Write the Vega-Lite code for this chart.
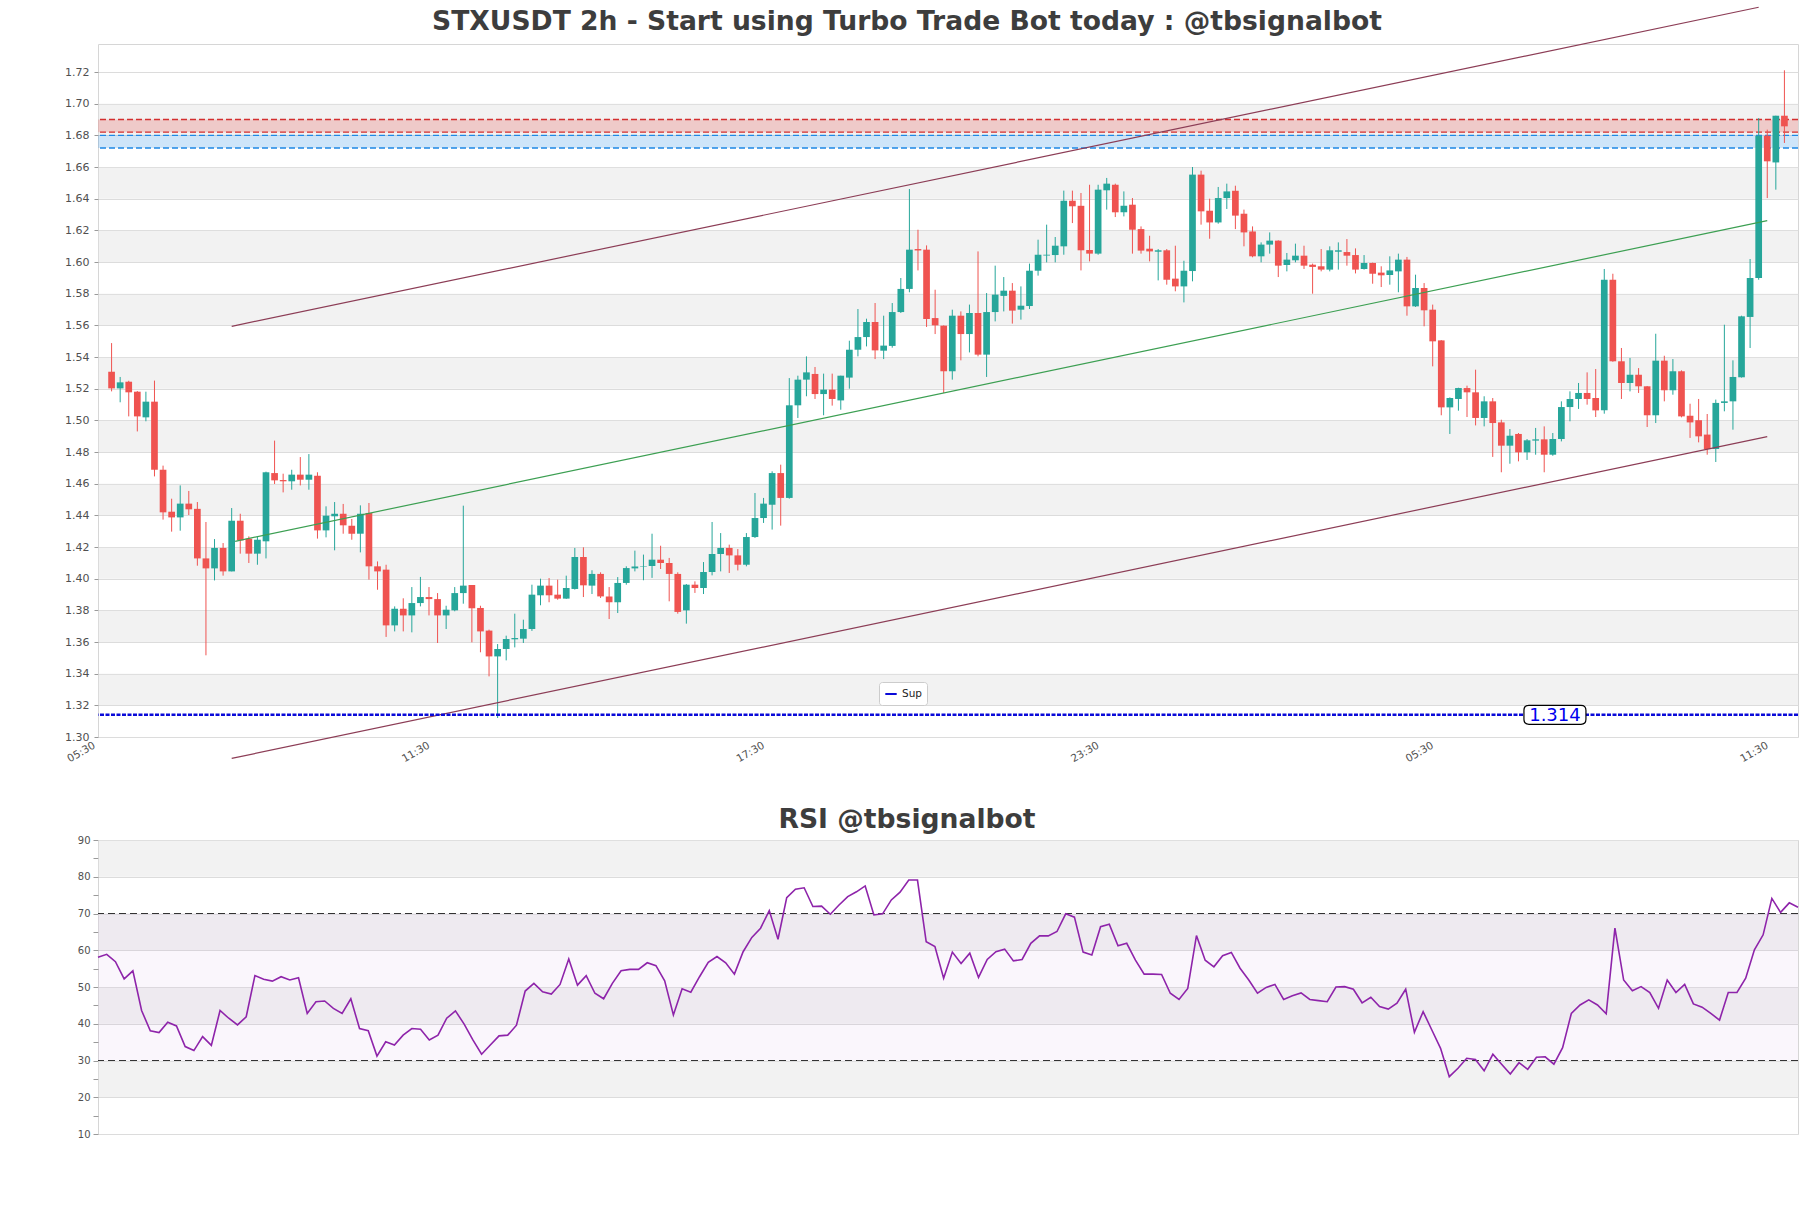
{
  "$schema": "https://vega.github.io/schema/vega-lite/v6.json",
  "autosize": {"type": "pad"},
  "padding": {"left": 64, "top": 4, "right": 14, "bottom": 74},
  "background": "#ffffff",
  "bounds": "flush",
  "spacing": 103,
  "config": {
    "font": "DejaVu Sans",
    "view": {"stroke": "#d6d6d6", "strokeWidth": 1},
    "axis": {"labelFont": "DejaVu Sans", "labelColor": "#505050", "tickColor": "#9a9a9a", "gridColor": "#dcdcdc", "gridWidth": 1, "domain": false, "labelOverlap": false},
    "title": {"font": "DejaVu Sans", "fontSize": 26.6, "fontWeight": "bold", "color": "#3d3d3d", "anchor": "middle"}
  },
  "datasets": {
    "k": [
      {"i":0,"o":1.5307,"h":1.5488,"l":1.5183,"c":1.5202,"r":58.1},
      {"i":1,"o":1.5202,"h":1.5274,"l":1.5114,"c":1.5240,"r":58.9},
      {"i":2,"o":1.5244,"h":1.5250,"l":1.5025,"c":1.5177,"r":56.9},
      {"i":3,"o":1.5181,"h":1.5185,"l":1.4930,"c":1.5025,"r":52.2},
      {"i":4,"o":1.5019,"h":1.5181,"l":1.4994,"c":1.5118,"r":54.4},
      {"i":5,"o":1.5118,"h":1.5251,"l":1.4646,"c":1.4688,"r":43.6},
      {"i":6,"o":1.4688,"h":1.4714,"l":1.4373,"c":1.4419,"r":38.1},
      {"i":7,"o":1.4423,"h":1.4505,"l":1.4297,"c":1.4387,"r":37.6},
      {"i":8,"o":1.4387,"h":1.4589,"l":1.4303,"c":1.4474,"r":40.4},
      {"i":9,"o":1.4474,"h":1.4554,"l":1.4402,"c":1.4438,"r":39.4},
      {"i":10,"o":1.4441,"h":1.4484,"l":1.4082,"c":1.4128,"r":33.8},
      {"i":11,"o":1.4128,"h":1.4358,"l":1.3516,"c":1.4065,"r":32.7},
      {"i":12,"o":1.4065,"h":1.4250,"l":1.3989,"c":1.4194,"r":36.5},
      {"i":13,"o":1.4194,"h":1.4225,"l":1.4019,"c":1.4046,"r":34.1},
      {"i":14,"o":1.4046,"h":1.4446,"l":1.4046,"c":1.4366,"r":43.6},
      {"i":15,"o":1.4366,"h":1.4410,"l":1.4158,"c":1.4242,"r":41.5},
      {"i":16,"o":1.4253,"h":1.4267,"l":1.4099,"c":1.4158,"r":39.7},
      {"i":17,"o":1.4158,"h":1.4267,"l":1.4088,"c":1.4246,"r":41.9},
      {"i":18,"o":1.4236,"h":1.4676,"l":1.4128,"c":1.4672,"r":53.1},
      {"i":19,"o":1.4667,"h":1.4872,"l":1.4598,"c":1.4621,"r":52.1},
      {"i":20,"o":1.4623,"h":1.4663,"l":1.4545,"c":1.4615,"r":51.6},
      {"i":21,"o":1.4615,"h":1.4688,"l":1.4562,"c":1.4657,"r":52.8},
      {"i":22,"o":1.4657,"h":1.4768,"l":1.4589,"c":1.4625,"r":51.9},
      {"i":23,"o":1.4625,"h":1.4787,"l":1.4562,"c":1.4657,"r":52.5},
      {"i":24,"o":1.4650,"h":1.4672,"l":1.4253,"c":1.4305,"r":42.8},
      {"i":25,"o":1.4305,"h":1.4457,"l":1.4261,"c":1.4398,"r":46.0},
      {"i":26,"o":1.4394,"h":1.4484,"l":1.4179,"c":1.4410,"r":46.2},
      {"i":27,"o":1.4410,"h":1.4472,"l":1.4284,"c":1.4337,"r":44.2},
      {"i":28,"o":1.4335,"h":1.4377,"l":1.4246,"c":1.4284,"r":42.8},
      {"i":29,"o":1.4284,"h":1.4463,"l":1.4166,"c":1.4410,"r":46.8},
      {"i":30,"o":1.4415,"h":1.4478,"l":1.3994,"c":1.4078,"r":38.7},
      {"i":31,"o":1.4078,"h":1.4109,"l":1.3930,"c":1.4046,"r":38.1},
      {"i":32,"o":1.4057,"h":1.4088,"l":1.3632,"c":1.3705,"r":31.2},
      {"i":33,"o":1.3705,"h":1.3825,"l":1.3667,"c":1.3810,"r":35.1},
      {"i":34,"o":1.3810,"h":1.3876,"l":1.3667,"c":1.3768,"r":34.2},
      {"i":35,"o":1.3768,"h":1.3947,"l":1.3661,"c":1.3846,"r":36.9},
      {"i":36,"o":1.3846,"h":1.4011,"l":1.3825,"c":1.3884,"r":38.7},
      {"i":37,"o":1.3884,"h":1.3947,"l":1.3768,"c":1.3871,"r":38.5},
      {"i":38,"o":1.3871,"h":1.3909,"l":1.3594,"c":1.3768,"r":35.6},
      {"i":39,"o":1.3768,"h":1.3829,"l":1.3682,"c":1.3804,"r":36.9},
      {"i":40,"o":1.3800,"h":1.3947,"l":1.3794,"c":1.3909,"r":41.5},
      {"i":41,"o":1.3909,"h":1.4461,"l":1.3842,"c":1.3956,"r":43.5},
      {"i":42,"o":1.3960,"h":1.3960,"l":1.3598,"c":1.3813,"r":39.9},
      {"i":43,"o":1.3815,"h":1.3829,"l":1.3535,"c":1.3667,"r":35.6},
      {"i":44,"o":1.3672,"h":1.3678,"l":1.3383,"c":1.3509,"r":31.7},
      {"i":45,"o":1.3509,"h":1.3587,"l":1.3120,"c":1.3556,"r":34.2},
      {"i":46,"o":1.3556,"h":1.3640,"l":1.3484,"c":1.3619,"r":36.7},
      {"i":47,"o":1.3617,"h":1.3779,"l":1.3566,"c":1.3625,"r":36.9},
      {"i":48,"o":1.3621,"h":1.3741,"l":1.3594,"c":1.3682,"r":39.6},
      {"i":49,"o":1.3682,"h":1.3962,"l":1.3670,"c":1.3899,"r":48.9},
      {"i":50,"o":1.3895,"h":1.4000,"l":1.3832,"c":1.3956,"r":51.0},
      {"i":51,"o":1.3956,"h":1.4004,"l":1.3851,"c":1.3895,"r":48.7},
      {"i":52,"o":1.3899,"h":1.3994,"l":1.3867,"c":1.3874,"r":48.1},
      {"i":53,"o":1.3874,"h":1.4019,"l":1.3872,"c":1.3941,"r":50.7},
      {"i":54,"o":1.3935,"h":1.4194,"l":1.3931,"c":1.4137,"r":57.6},
      {"i":55,"o":1.4137,"h":1.4198,"l":1.3884,"c":1.3958,"r":50.5},
      {"i":56,"o":1.3956,"h":1.4053,"l":1.3903,"c":1.4030,"r":53.1},
      {"i":57,"o":1.4030,"h":1.4040,"l":1.3878,"c":1.3888,"r":48.3},
      {"i":58,"o":1.3888,"h":1.3947,"l":1.3745,"c":1.3851,"r":46.8},
      {"i":59,"o":1.3851,"h":1.4010,"l":1.3783,"c":1.3973,"r":51.0},
      {"i":60,"o":1.3973,"h":1.4078,"l":1.3962,"c":1.4067,"r":54.4},
      {"i":61,"o":1.4065,"h":1.4177,"l":1.4046,"c":1.4077,"r":54.8},
      {"i":62,"o":1.4077,"h":1.4152,"l":1.3990,"c":1.4080,"r":54.8},
      {"i":63,"o":1.4080,"h":1.4284,"l":1.4005,"c":1.4120,"r":56.6},
      {"i":64,"o":1.4120,"h":1.4208,"l":1.4061,"c":1.4099,"r":55.8},
      {"i":65,"o":1.4099,"h":1.4131,"l":1.3857,"c":1.4030,"r":51.7},
      {"i":66,"o":1.4030,"h":1.4040,"l":1.3779,"c":1.3790,"r":42.4},
      {"i":67,"o":1.3800,"h":1.3966,"l":1.3716,"c":1.3962,"r":49.5},
      {"i":68,"o":1.3962,"h":1.3983,"l":1.3910,"c":1.3941,"r":48.6},
      {"i":69,"o":1.3941,"h":1.4105,"l":1.3903,"c":1.4042,"r":52.8},
      {"i":70,"o":1.4042,"h":1.4358,"l":1.4021,"c":1.4156,"r":56.7},
      {"i":71,"o":1.4156,"h":1.4288,"l":1.4046,"c":1.4194,"r":58.3},
      {"i":72,"o":1.4194,"h":1.4215,"l":1.4036,"c":1.4147,"r":56.6},
      {"i":73,"o":1.4147,"h":1.4187,"l":1.4052,"c":1.4088,"r":53.5},
      {"i":74,"o":1.4088,"h":1.4288,"l":1.4078,"c":1.4263,"r":59.6},
      {"i":75,"o":1.4263,"h":1.4541,"l":1.4257,"c":1.4383,"r":63.5},
      {"i":76,"o":1.4383,"h":1.4510,"l":1.4352,"c":1.4474,"r":66.0},
      {"i":77,"o":1.4467,"h":1.4678,"l":1.4310,"c":1.4667,"r":70.8},
      {"i":78,"o":1.4667,"h":1.4720,"l":1.4335,"c":1.4510,"r":63.0},
      {"i":79,"o":1.4510,"h":1.5267,"l":1.4505,"c":1.5095,"r":74.3},
      {"i":80,"o":1.5095,"h":1.5282,"l":1.5015,"c":1.5257,"r":76.6},
      {"i":81,"o":1.5257,"h":1.5404,"l":1.5152,"c":1.5303,"r":77.0},
      {"i":82,"o":1.5293,"h":1.5337,"l":1.5135,"c":1.5166,"r":71.9},
      {"i":83,"o":1.5166,"h":1.5295,"l":1.5032,"c":1.5194,"r":72.0},
      {"i":84,"o":1.5194,"h":1.5295,"l":1.5093,"c":1.5135,"r":69.8},
      {"i":85,"o":1.5126,"h":1.5282,"l":1.5067,"c":1.5282,"r":72.3},
      {"i":86,"o":1.5270,"h":1.5503,"l":1.5200,"c":1.5446,"r":74.6},
      {"i":87,"o":1.5446,"h":1.5703,"l":1.5404,"c":1.5526,"r":75.9},
      {"i":88,"o":1.5526,"h":1.5642,"l":1.5467,"c":1.5621,"r":77.5},
      {"i":89,"o":1.5621,"h":1.5741,"l":1.5387,"c":1.5442,"r":69.6},
      {"i":90,"o":1.5440,"h":1.5661,"l":1.5387,"c":1.5472,"r":69.9},
      {"i":91,"o":1.5470,"h":1.5741,"l":1.5459,"c":1.5684,"r":73.7},
      {"i":92,"o":1.5684,"h":1.5899,"l":1.5678,"c":1.5830,"r":75.8},
      {"i":93,"o":1.5830,"h":1.6461,"l":1.5809,"c":1.6078,"r":79.1},
      {"i":94,"o":1.6082,"h":1.6204,"l":1.5947,"c":1.6073,"r":79.1},
      {"i":95,"o":1.6078,"h":1.6105,"l":1.5590,"c":1.5640,"r":62.3},
      {"i":96,"o":1.5646,"h":1.5825,"l":1.5545,"c":1.5600,"r":61.0},
      {"i":97,"o":1.5598,"h":1.5600,"l":1.5173,"c":1.5310,"r":52.4},
      {"i":98,"o":1.5310,"h":1.5699,"l":1.5257,"c":1.5661,"r":59.5},
      {"i":99,"o":1.5661,"h":1.5688,"l":1.5379,"c":1.5545,"r":56.4},
      {"i":100,"o":1.5545,"h":1.5731,"l":1.5429,"c":1.5678,"r":59.2},
      {"i":101,"o":1.5678,"h":1.6067,"l":1.5404,"c":1.5415,"r":52.6},
      {"i":102,"o":1.5415,"h":1.5804,"l":1.5274,"c":1.5684,"r":57.5},
      {"i":103,"o":1.5684,"h":1.5977,"l":1.5625,"c":1.5794,"r":59.6},
      {"i":104,"o":1.5786,"h":1.5905,"l":1.5688,"c":1.5819,"r":60.3},
      {"i":105,"o":1.5819,"h":1.5867,"l":1.5611,"c":1.5693,"r":57.1},
      {"i":106,"o":1.5699,"h":1.5846,"l":1.5636,"c":1.5724,"r":57.5},
      {"i":107,"o":1.5722,"h":1.5990,"l":1.5703,"c":1.5945,"r":61.9},
      {"i":108,"o":1.5945,"h":1.6141,"l":1.5914,"c":1.6046,"r":63.9},
      {"i":109,"o":1.6041,"h":1.6236,"l":1.5998,"c":1.6046,"r":63.9},
      {"i":110,"o":1.6044,"h":1.6158,"l":1.5998,"c":1.6103,"r":65.1},
      {"i":111,"o":1.6099,"h":1.6451,"l":1.6046,"c":1.6387,"r":69.9},
      {"i":112,"o":1.6387,"h":1.6451,"l":1.6246,"c":1.6352,"r":69.0},
      {"i":113,"o":1.6355,"h":1.6436,"l":1.5947,"c":1.6074,"r":59.5},
      {"i":114,"o":1.6076,"h":1.6488,"l":1.6004,"c":1.6053,"r":58.7},
      {"i":115,"o":1.6053,"h":1.6488,"l":1.6046,"c":1.6457,"r":66.4},
      {"i":116,"o":1.6453,"h":1.6531,"l":1.6331,"c":1.6495,"r":67.1},
      {"i":117,"o":1.6488,"h":1.6495,"l":1.6284,"c":1.6314,"r":61.2},
      {"i":118,"o":1.6314,"h":1.6446,"l":1.6288,"c":1.6356,"r":61.9},
      {"i":119,"o":1.6362,"h":1.6404,"l":1.6053,"c":1.6204,"r":57.3},
      {"i":120,"o":1.6208,"h":1.6225,"l":1.6053,"c":1.6072,"r":53.5},
      {"i":121,"o":1.6084,"h":1.6166,"l":1.6004,"c":1.6067,"r":53.5},
      {"i":122,"o":1.6065,"h":1.6082,"l":1.5884,"c":1.6074,"r":53.4},
      {"i":123,"o":1.6074,"h":1.6082,"l":1.5857,"c":1.5888,"r":48.3},
      {"i":124,"o":1.5895,"h":1.6103,"l":1.5815,"c":1.5846,"r":46.6},
      {"i":125,"o":1.5846,"h":1.6008,"l":1.5745,"c":1.5945,"r":49.6},
      {"i":126,"o":1.5943,"h":1.6600,"l":1.5878,"c":1.6552,"r":64.0},
      {"i":127,"o":1.6552,"h":1.6577,"l":1.6236,"c":1.6320,"r":57.3},
      {"i":128,"o":1.6324,"h":1.6400,"l":1.6147,"c":1.6250,"r":55.5},
      {"i":129,"o":1.6250,"h":1.6474,"l":1.6242,"c":1.6404,"r":58.5},
      {"i":130,"o":1.6404,"h":1.6495,"l":1.6335,"c":1.6446,"r":59.4},
      {"i":131,"o":1.6450,"h":1.6482,"l":1.6208,"c":1.6293,"r":55.1},
      {"i":132,"o":1.6305,"h":1.6331,"l":1.6099,"c":1.6187,"r":51.9},
      {"i":133,"o":1.6193,"h":1.6225,"l":1.6030,"c":1.6036,"r":48.3},
      {"i":134,"o":1.6036,"h":1.6124,"l":1.5998,"c":1.6110,"r":49.9},
      {"i":135,"o":1.6110,"h":1.6187,"l":1.6053,"c":1.6135,"r":50.7},
      {"i":136,"o":1.6135,"h":1.6137,"l":1.5905,"c":1.5977,"r":46.6},
      {"i":137,"o":1.5981,"h":1.6057,"l":1.5941,"c":1.6015,"r":47.6},
      {"i":138,"o":1.6011,"h":1.6116,"l":1.5998,"c":1.6040,"r":48.4},
      {"i":139,"o":1.6040,"h":1.6103,"l":1.5956,"c":1.5977,"r":46.6},
      {"i":140,"o":1.5983,"h":1.5990,"l":1.5800,"c":1.5969,"r":46.3},
      {"i":141,"o":1.5973,"h":1.6082,"l":1.5941,"c":1.5952,"r":46.0},
      {"i":142,"o":1.5952,"h":1.6099,"l":1.5941,"c":1.6074,"r":50.0},
      {"i":143,"o":1.6065,"h":1.6124,"l":1.5952,"c":1.6074,"r":50.1},
      {"i":144,"o":1.6063,"h":1.6145,"l":1.5977,"c":1.6040,"r":49.4},
      {"i":145,"o":1.6044,"h":1.6086,"l":1.5928,"c":1.5952,"r":45.7},
      {"i":146,"o":1.5956,"h":1.6044,"l":1.5952,"c":1.5994,"r":47.2},
      {"i":147,"o":1.5994,"h":1.5996,"l":1.5863,"c":1.5926,"r":44.7},
      {"i":148,"o":1.5933,"h":1.5973,"l":1.5842,"c":1.5916,"r":44.0},
      {"i":149,"o":1.5918,"h":1.6036,"l":1.5857,"c":1.5947,"r":45.6},
      {"i":150,"o":1.5941,"h":1.6053,"l":1.5809,"c":1.6015,"r":49.4},
      {"i":151,"o":1.6015,"h":1.6032,"l":1.5661,"c":1.5720,"r":37.7},
      {"i":152,"o":1.5720,"h":1.5920,"l":1.5716,"c":1.5836,"r":43.3},
      {"i":153,"o":1.5836,"h":1.5867,"l":1.5594,"c":1.5695,"r":38.3},
      {"i":154,"o":1.5699,"h":1.5731,"l":1.5341,"c":1.5499,"r":33.3},
      {"i":155,"o":1.5505,"h":1.5507,"l":1.5032,"c":1.5082,"r":25.6},
      {"i":156,"o":1.5082,"h":1.5145,"l":1.4914,"c":1.5141,"r":27.9},
      {"i":157,"o":1.5135,"h":1.5206,"l":1.5061,"c":1.5204,"r":30.6},
      {"i":158,"o":1.5204,"h":1.5219,"l":1.5021,"c":1.5177,"r":30.3},
      {"i":159,"o":1.5177,"h":1.5320,"l":1.4968,"c":1.5015,"r":27.2},
      {"i":160,"o":1.5015,"h":1.5152,"l":1.4962,"c":1.5120,"r":31.7},
      {"i":161,"o":1.5120,"h":1.5141,"l":1.4769,"c":1.4983,"r":29.0},
      {"i":162,"o":1.4987,"h":1.5004,"l":1.4672,"c":1.4840,"r":26.3},
      {"i":163,"o":1.4840,"h":1.4945,"l":1.4726,"c":1.4903,"r":29.4},
      {"i":164,"o":1.4914,"h":1.4920,"l":1.4741,"c":1.4798,"r":27.6},
      {"i":165,"o":1.4798,"h":1.4882,"l":1.4750,"c":1.4874,"r":30.9},
      {"i":166,"o":1.4872,"h":1.4952,"l":1.4783,"c":1.4880,"r":31.0},
      {"i":167,"o":1.4880,"h":1.4962,"l":1.4672,"c":1.4783,"r":29.0},
      {"i":168,"o":1.4783,"h":1.4920,"l":1.4776,"c":1.4882,"r":33.5},
      {"i":169,"o":1.4882,"h":1.5120,"l":1.4867,"c":1.5084,"r":42.8},
      {"i":170,"o":1.5084,"h":1.5183,"l":1.4994,"c":1.5135,"r":45.1},
      {"i":171,"o":1.5135,"h":1.5236,"l":1.5072,"c":1.5173,"r":46.5},
      {"i":172,"o":1.5173,"h":1.5303,"l":1.5099,"c":1.5135,"r":45.1},
      {"i":173,"o":1.5141,"h":1.5324,"l":1.5021,"c":1.5063,"r":42.7},
      {"i":174,"o":1.5063,"h":1.5956,"l":1.5042,"c":1.5888,"r":66.0},
      {"i":175,"o":1.5888,"h":1.5926,"l":1.5370,"c":1.5373,"r":51.9},
      {"i":176,"o":1.5373,"h":1.5457,"l":1.5135,"c":1.5236,"r":49.0},
      {"i":177,"o":1.5236,"h":1.5394,"l":1.5183,"c":1.5288,"r":50.1},
      {"i":178,"o":1.5288,"h":1.5330,"l":1.5173,"c":1.5215,"r":48.5},
      {"i":179,"o":1.5215,"h":1.5217,"l":1.4958,"c":1.5032,"r":44.2},
      {"i":180,"o":1.5032,"h":1.5547,"l":1.4983,"c":1.5377,"r":51.9},
      {"i":181,"o":1.5377,"h":1.5408,"l":1.5120,"c":1.5190,"r":48.5},
      {"i":182,"o":1.5190,"h":1.5387,"l":1.5162,"c":1.5310,"r":50.7},
      {"i":183,"o":1.5310,"h":1.5316,"l":1.5019,"c":1.5025,"r":45.4},
      {"i":184,"o":1.5029,"h":1.5105,"l":1.4889,"c":1.4987,"r":44.5},
      {"i":185,"o":1.5001,"h":1.5135,"l":1.4861,"c":1.4899,"r":42.8},
      {"i":186,"o":1.4910,"h":1.5040,"l":1.4783,"c":1.4819,"r":41.0},
      {"i":187,"o":1.4819,"h":1.5131,"l":1.4737,"c":1.5110,"r":48.5},
      {"i":188,"o":1.5110,"h":1.5604,"l":1.5057,"c":1.5120,"r":48.5},
      {"i":189,"o":1.5120,"h":1.5379,"l":1.4941,"c":1.5274,"r":52.4},
      {"i":190,"o":1.5272,"h":1.5661,"l":1.5270,"c":1.5657,"r":60.1},
      {"i":191,"o":1.5653,"h":1.6019,"l":1.5457,"c":1.5899,"r":64.2},
      {"i":192,"o":1.5899,"h":1.6909,"l":1.5888,"c":1.6798,"r":74.1},
      {"i":193,"o":1.6798,"h":1.6836,"l":1.6404,"c":1.6636,"r":70.3},
      {"i":194,"o":1.6629,"h":1.6924,"l":1.6457,"c":1.6924,"r":72.9},
      {"i":195,"o":1.6924,"h":1.7211,"l":1.6752,"c":1.6857,"r":71.7}
    ],
    "bandsP": [
      {"b0":1.32,"b1":1.34},{"b0":1.36,"b1":1.38},{"b0":1.40,"b1":1.42},{"b0":1.44,"b1":1.46},{"b0":1.48,"b1":1.50},
      {"b0":1.52,"b1":1.54},{"b0":1.56,"b1":1.58},{"b0":1.60,"b1":1.62},{"b0":1.64,"b1":1.66},{"b0":1.68,"b1":1.70}
    ],
    "zones": [
      {"lo":1.682,"hi":1.690,"kind":"res"},
      {"lo":1.672,"hi":1.680,"kind":"sup"}
    ],
    "chan": [
      {"id":"upper","i":14,"p":1.5594},{"id":"upper","i":192,"p":1.7609},
      {"id":"lower","i":14,"p":1.2865},{"id":"lower","i":193,"p":1.4897},
      {"id":"mid","i":14.4,"p":1.4236},{"id":"mid","i":193,"p":1.6261}
    ],
    "sup": [{"name":"Sup","level":1.314,"at":168.25}],
    "bandsR": [{"b0":20,"b1":30},{"b0":40,"b1":50},{"b0":60,"b1":70},{"b0":80,"b1":90}],
    "rsiZone": [{"b0":30,"b1":70}],
    "rsiLv": [{"lvl":70},{"lvl":30}]
  },
  "resolve": {"scale": {"x": "independent", "y": "independent"}},
  "vconcat": [
    {
      "width": 1700,
      "height": 693,
      "title": {"text": "STXUSDT 2h - Start using Turbo Trade Bot today : @tbsignalbot", "offset": -31, "dx": -41},
      "layer": [
        {
          "data": {"name": "bandsP"},
          "mark": {"type": "rect", "fill": "#e2e2e2", "fillOpacity": 0.45},
          "encoding": {
            "y": {"field": "b0", "type": "quantitative", "title": null,
                  "scale": {"domain": [1.30, 1.7377], "nice": false, "zero": false},
                  "axis": {"values": [1.30,1.32,1.34,1.36,1.38,1.40,1.42,1.44,1.46,1.48,1.50,1.52,1.54,1.56,1.58,1.60,1.62,1.64,1.66,1.68,1.70,1.72],
                           "tickCount": 100,
                           "format": ".2f", "grid": true, "tickSize": 4, "labelPadding": 5, "labelFontSize": 11, "labelOverlap": false, "labelBound": false, "title": null}},
            "y2": {"field": "b1"}
          }
        },
        {
          "data": {"name": "zones"},
          "mark": {"type": "rect", "fillOpacity": 0.22},
          "encoding": {
            "y": {"field": "lo", "type": "quantitative", "title": null},
            "y2": {"field": "hi"},
            "fill": {"field": "kind", "type": "nominal", "scale": {"domain": ["res","sup"], "range": ["#e53935","#1e88e5"]}, "legend": null}
          }
        },
        {
          "data": {"name": "zones"},
          "mark": {"type": "rule", "strokeWidth": 1.3, "strokeDash": [6,3]},
          "encoding": {
            "y": {"field": "lo", "type": "quantitative", "title": null},
            "stroke": {"field": "kind", "type": "nominal", "scale": {"domain": ["res","sup"], "range": ["#d32f2f","#1e88e5"]}, "legend": null}
          }
        },
        {
          "data": {"name": "zones"},
          "mark": {"type": "rule", "strokeWidth": 1.3, "strokeDash": [6,3]},
          "encoding": {
            "y": {"field": "hi", "type": "quantitative", "title": null},
            "stroke": {"field": "kind", "type": "nominal", "legend": null}
          }
        },
        {
          "data": {"name": "k"},
          "mark": {"type": "rule", "strokeWidth": 1},
          "encoding": {
            "x": {"field": "i", "type": "quantitative", "title": null,
                  "scale": {"domain": [-1, 196], "nice": false, "zero": false},
                  "axis": {"values": [0,39,78,117,156,195], "tickCount": 100,
                           "labelExpr": "datum.value == 0 ? '05:30' : datum.value == 39 ? '11:30' : datum.value == 78 ? '17:30' : datum.value == 117 ? '23:30' : datum.value == 156 ? '05:30' : '11:30'",
                           "labelAngle": -30, "labelAlign": "right", "labelBaseline": "top", "labelOffset": -20,
                           "ticks": false, "labelPadding": 3, "labelFontSize": 10.5, "grid": false, "labelOverlap": false, "title": null}},
            "y": {"field": "l", "type": "quantitative", "title": null},
            "y2": {"field": "h"},
            "color": {"condition": {"test": "datum.c >= datum.o", "value": "#26a69a"}, "value": "#ef5350"}
          }
        },
        {
          "data": {"name": "k"},
          "mark": {"type": "bar", "size": 6.7},
          "encoding": {
            "x": {"field": "i", "type": "quantitative", "title": null},
            "y": {"field": "o", "type": "quantitative", "title": null},
            "y2": {"field": "c"},
            "color": {"condition": {"test": "datum.c >= datum.o", "value": "#26a69a"}, "value": "#ef5350"}
          }
        },
        {
          "data": {"name": "chan"},
          "transform": [{"filter": "datum.id !== 'mid'"}],
          "mark": {"type": "line", "strokeWidth": 1.2, "color": "#8c3d56"},
          "encoding": {
            "x": {"field": "i", "type": "quantitative", "title": null},
            "y": {"field": "p", "type": "quantitative", "title": null},
            "detail": {"field": "id"}
          }
        },
        {
          "data": {"name": "chan"},
          "transform": [{"filter": "datum.id === 'mid'"}],
          "mark": {"type": "line", "strokeWidth": 1.2, "color": "#3c9f52"},
          "encoding": {
            "x": {"field": "i", "type": "quantitative", "title": null},
            "y": {"field": "p", "type": "quantitative", "title": null}
          }
        },
        {
          "data": {"name": "sup"},
          "mark": {"type": "rule", "strokeWidth": 2.5, "strokeDash": [4,1.5]},
          "encoding": {
            "y": {"field": "level", "type": "quantitative", "title": null},
            "color": {"field": "name", "type": "nominal",
                       "scale": {"domain": ["Sup"], "range": ["#0a0ad8"]},
                       "legend": {"orient": "none", "legendX": 781, "legendY": 638, "title": null,
                                  "symbolType": "stroke", "symbolStrokeWidth": 2, "symbolSize": 130, "symbolDash": [1,0],
                                  "labelFontSize": 10.5, "labelFont": "DejaVu Sans", "labelColor": "#222222",
                                  "fillColor": "#ffffff", "strokeColor": "#cccccc", "padding": 5, "cornerRadius": 3}}
          }
        },
        {
          "data": {"name": "sup"},
          "mark": {"type": "point", "shape": "M-0.84,-0.306 L0.84,-0.306 Q1,-0.306 1,-0.146 L1,0.146 Q1,0.306 0.84,0.306 L-0.84,0.306 Q-1,0.306 -1,0.146 L-1,-0.146 Q-1,-0.306 -0.84,-0.306 Z",
                   "filled": true, "fill": "#ffffff", "stroke": "#000000", "strokeWidth": 1.2, "size": 3844, "opacity": 1},
          "encoding": {
            "x": {"field": "at", "type": "quantitative", "title": null},
            "y": {"field": "level", "type": "quantitative", "title": null}
          }
        },
        {
          "data": {"name": "sup"},
          "mark": {"type": "text", "fontSize": 18, "font": "DejaVu Sans", "color": "#0000ee", "baseline": "middle", "align": "center", "dy": 1},
          "encoding": {
            "x": {"field": "at", "type": "quantitative", "title": null},
            "y": {"field": "level", "type": "quantitative", "title": null},
            "text": {"field": "level", "type": "quantitative", "format": ".3f"}
          }
        }
      ]
    },
    {
      "width": 1700,
      "height": 294,
      "title": {"text": "RSI @tbsignalbot", "offset": 1, "dx": -41},
      "layer": [
        {
          "data": {"name": "bandsR"},
          "mark": {"type": "rect", "fill": "#e2e2e2", "fillOpacity": 0.45},
          "encoding": {
            "y": {"field": "b0", "type": "quantitative", "title": null,
                  "scale": {"domain": [10, 90], "nice": false, "zero": false},
                  "axis": {"values": [10,15,20,25,30,35,40,45,50,55,60,65,70,75,80,85,90],
                           "tickCount": 100,
                           "labelExpr": "datum.value % 10 === 0 ? datum.label : ''",
                           "grid": true,
                           "gridOpacity": {"condition": {"test": "datum.value % 10 !== 0", "value": 0}, "value": 1},
                           "tickSize": 5, "labelPadding": 3, "labelFontSize": 10, "labelOverlap": false, "labelBound": false, "title": null}},
            "y2": {"field": "b1"}
          }
        },
        {
          "data": {"name": "rsiZone"},
          "mark": {"type": "rect", "fill": "#c58fd6", "fillOpacity": 0.08},
          "encoding": {
            "y": {"field": "b0", "type": "quantitative", "title": null},
            "y2": {"field": "b1"}
          }
        },
        {
          "data": {"name": "rsiLv"},
          "mark": {"type": "rule", "color": "#333333", "strokeWidth": 1.2, "strokeDash": [7,4]},
          "encoding": {
            "y": {"field": "lvl", "type": "quantitative", "title": null}
          }
        },
        {
          "data": {"name": "k"},
          "mark": {"type": "line", "color": "#8e24aa", "strokeWidth": 1.6},
          "encoding": {
            "x": {"field": "i", "type": "quantitative", "title": null, "axis": null,
                  "scale": {"domain": [0, 195], "nice": false, "zero": false}},
            "y": {"field": "r", "type": "quantitative", "title": null}
          }
        }
      ]
    }
  ]
}
